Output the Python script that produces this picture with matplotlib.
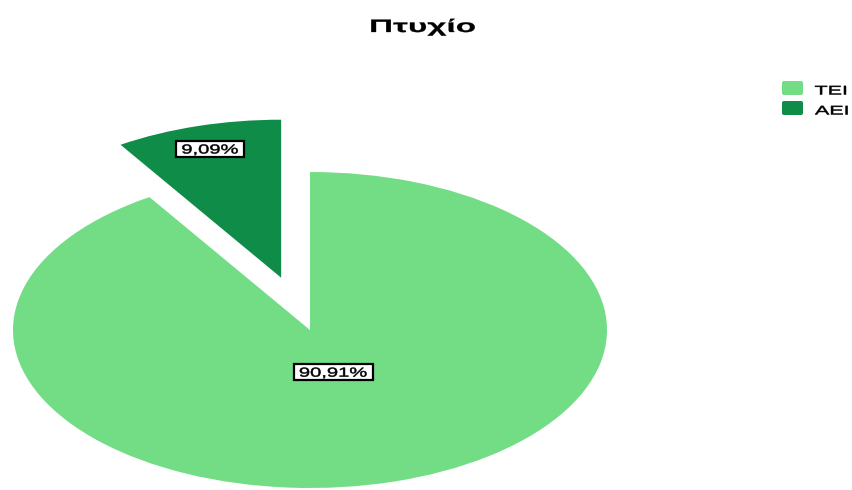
import matplotlib
matplotlib.use("Agg")
import matplotlib.pyplot as plt
from matplotlib.textpath import TextPath
from matplotlib.font_manager import FontProperties
from matplotlib.patches import PathPatch, Rectangle, FancyBboxPatch
from matplotlib.transforms import Affine2D
import numpy as np

# data
title = "Πτυχίο"
categories = ["TEI", "AEI"]
counts = [10, 1]
colors = ["#72DD85", "#0F8C48"]
explode = [0, 0.345]
label_dist = [0.277, 0.85]  # label distance from wedge tip, in radius units

W, H = 853, 490
fig = plt.figure(figsize=(W / 100, H / 100), dpi=100, facecolor="white")


def text_width(s, size, weight="normal", sx=1.0):
    fp = FontProperties(family="Liberation Sans", weight=weight)
    return TextPath((0, 0), s, size=size, prop=fp).get_extents().width * sx


def stretched_text(x, y, s, size, sx, weight="normal", color="black",
                   ha="center", stroke=0.35):
    """Draw text in pixel coords (y from top), baseline at y, stretched in x
    (the reference text is horizontally stretched)."""
    fp = FontProperties(family="Liberation Sans", weight=weight)
    tp = TextPath((0, 0), s, size=size, prop=fp)
    ext = tp.get_extents()
    w = ext.width * sx
    x0 = x - w / 2 if ha == "center" else x
    tr = (Affine2D().translate(-ext.x0, 0).scale(sx, 1)
          .translate(x0, H - y))
    fig.add_artist(PathPatch(tp, transform=tr, fc=color, ec=color, lw=stroke,
                             snap=False, zorder=10))
    return w


# axes placed so that the (stretched) pie sits where it does in the reference
ylo, yhi = -1.0, 1.45
x_left_px, x_right_px = 13, 607
y_center_px, ry_px = 330, 158
top_px = y_center_px - ry_px * yhi
bot_px = y_center_px - ry_px * ylo
ax = fig.add_axes([x_left_px / W, 1 - bot_px / H,
                   (x_right_px - x_left_px) / W, (bot_px - top_px) / H])

wedges, _ = ax.pie(counts, colors=colors, explode=explode, startangle=90,
                   counterclock=False, radius=1,
                   wedgeprops=dict(linewidth=0, antialiased=True))
ax.set_xlim(-1, 1)
ax.set_ylim(ylo, yhi)
ax.set_aspect("auto")
ax.axis("off")

# percentage labels in white boxes with a black border
total = sum(counts)
lab_size, lab_sx = 13.0, 1.55
for w, c, d in zip(wedges, counts, label_dist):
    w.set_clip_on(False)
    mid = np.deg2rad((w.theta1 + w.theta2) / 2)
    cx, cy = w.center
    px, py = ax.transData.transform((cx + d * np.cos(mid), cy + d * np.sin(mid)))
    py = H - py  # to top-down pixels
    txt = f"{100 * c / total:.2f}%".replace(".", ",")
    bw, bh = text_width(txt, lab_size, sx=lab_sx) + 12, 16
    fig.add_artist(Rectangle((px - bw / 2, H - py - bh / 2), bw, bh,
                             transform=Affine2D(), fc="white", ec="black",
                             lw=1.6, zorder=5))
    stretched_text(px, py + 0.716 * lab_size / 2, txt, lab_size, lab_sx)

# title
stretched_text(423, 32, title, 18, 1.85, weight="bold", stroke=0.2)

# legend
for i, (cat, col) in enumerate(zip(categories, colors)):
    top = 81 + 20 * i
    fig.add_artist(FancyBboxPatch((782, H - top - 14), 21, 14,
                                  boxstyle="round,pad=0,rounding_size=2",
                                  transform=Affine2D(), fc=col, ec="none"))
    stretched_text(815, top + 13.5, cat, 12.5, 1.72, ha="left")

fig.savefig("out.png", dpi=100, facecolor="white")
